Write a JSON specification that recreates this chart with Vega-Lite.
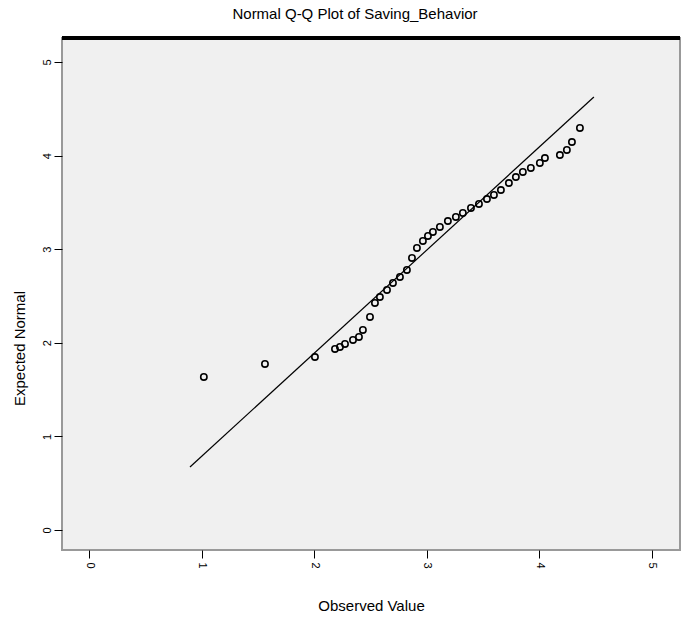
{
  "$schema": "https://vega.github.io/schema/vega-lite/v6.json",
  "autosize": {"type": "none"},
  "width": 618,
  "height": 512,
  "padding": {"left": 62, "top": 38, "right": 6, "bottom": 68},
  "background": "white",
  "title": {"text": "Normal Q-Q Plot of Saving_Behavior", "font": "Liberation Sans", "fontSize": 15, "fontWeight": "normal", "color": "black", "anchor": "middle", "dx": -16, "offset": 14},
  "config": {
    "view": {"fill": "#f0f0f0", "stroke": "#999999", "strokeWidth": 2},
    "axis": {"domain": false, "grid": false, "tickColor": "black", "tickSize": 8, "labelColor": "black", "labelFont": "Liberation Sans", "labelFontSize": 11, "titleFont": "Liberation Sans", "titleFontSize": 15, "titleFontWeight": "normal", "titleColor": "black"}
  },
  "datasets": {
    "points": [
      {"obs": 1.02, "exp": 1.635},
      {"obs": 1.563, "exp": 1.774},
      {"obs": 2.007, "exp": 1.848},
      {"obs": 2.185, "exp": 1.934},
      {"obs": 2.229, "exp": 1.955},
      {"obs": 2.274, "exp": 1.987},
      {"obs": 2.345, "exp": 2.03},
      {"obs": 2.398, "exp": 2.062},
      {"obs": 2.433, "exp": 2.137},
      {"obs": 2.496, "exp": 2.276},
      {"obs": 2.54, "exp": 2.425},
      {"obs": 2.584, "exp": 2.489},
      {"obs": 2.647, "exp": 2.564},
      {"obs": 2.7, "exp": 2.639},
      {"obs": 2.762, "exp": 2.703},
      {"obs": 2.824, "exp": 2.778},
      {"obs": 2.869, "exp": 2.906},
      {"obs": 2.913, "exp": 3.013},
      {"obs": 2.966, "exp": 3.088},
      {"obs": 3.011, "exp": 3.141},
      {"obs": 3.055, "exp": 3.184},
      {"obs": 3.117, "exp": 3.237},
      {"obs": 3.188, "exp": 3.301},
      {"obs": 3.259, "exp": 3.344},
      {"obs": 3.321, "exp": 3.387},
      {"obs": 3.393, "exp": 3.44},
      {"obs": 3.464, "exp": 3.483},
      {"obs": 3.535, "exp": 3.536},
      {"obs": 3.597, "exp": 3.579},
      {"obs": 3.659, "exp": 3.632},
      {"obs": 3.73, "exp": 3.707},
      {"obs": 3.792, "exp": 3.771},
      {"obs": 3.854, "exp": 3.825},
      {"obs": 3.925, "exp": 3.868},
      {"obs": 4.005, "exp": 3.921},
      {"obs": 4.05, "exp": 3.974},
      {"obs": 4.183, "exp": 4.006},
      {"obs": 4.245, "exp": 4.06},
      {"obs": 4.29, "exp": 4.145},
      {"obs": 4.361, "exp": 4.295}
    ],
    "refline": [
      {"obs": 0.897, "exp": 0.673},
      {"obs": 4.485, "exp": 4.626}
    ]
  },
  "layer": [
    {
      "data": {"name": "refline"},
      "mark": {"type": "line", "color": "black", "strokeWidth": 1.2},
      "encoding": {
        "x": {"field": "obs", "type": "quantitative", "scale": {"domain": [-0.24, 5.25], "nice": false, "zero": false}, "axis": {"title": "Observed Value", "values": [0, 1, 2, 3, 4, 5], "format": "d", "labelAngle": 90, "labelAlign": "left", "labelBaseline": "middle", "labelPadding": 4, "titlePadding": 30}},
        "y": {"field": "exp", "type": "quantitative", "scale": {"domain": [-0.214, 5.256], "nice": false, "zero": false}, "axis": {"title": "Expected Normal", "values": [0, 1, 2, 3, 4, 5], "format": "d", "labelAngle": -90, "labelAlign": "center", "labelBaseline": "bottom", "titlePadding": 14, "titleY": 310}}
      }
    },
    {
      "data": {"name": "points"},
      "mark": {"type": "point", "shape": "circle", "filled": false, "color": "black", "size": 40, "strokeWidth": 1.6, "opacity": 1},
      "encoding": {
        "x": {"field": "obs", "type": "quantitative"},
        "y": {"field": "exp", "type": "quantitative"}
      }
    },
    {
      "data": {"values": [{}]},
      "mark": {"type": "rule", "color": "black", "strokeWidth": 4},
      "encoding": {"y": {"datum": 5.256}}
    }
  ]
}
